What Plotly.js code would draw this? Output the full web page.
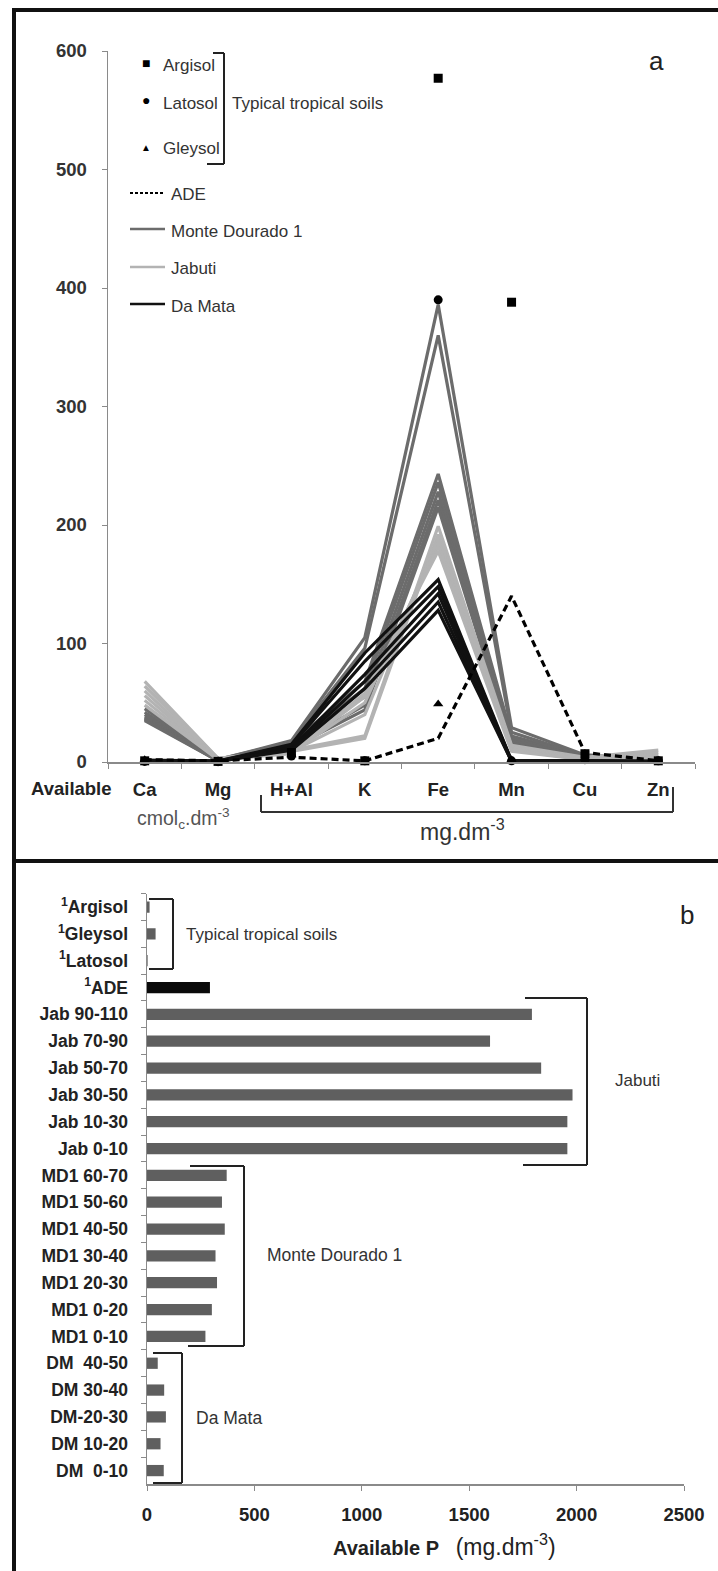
<!DOCTYPE html>
<html>
<head>
<meta charset="utf-8">
<script src="https://cdn.plot.ly/plotly-3.0.1.min.js"></script>
<style>
  html, body { margin: 0; padding: 0; background: #ffffff; }
  #chart { width: 718px; height: 1571px; }
</style>
</head>
<body>
<div id="chart"></div>
<script>
// ---------------- DATA ----------------
// Panel a: available nutrients
const nutrients = ['Ca', 'Mg', 'H+Al', 'K', 'Fe', 'Mn', 'Cu', 'Zn'];

// typical tropical soils (markers)
const argisol = [1, 0.5, 8, 1, 577, 388, 7, 1];
const latosol = [0.5, 0.3, 5, 1, 390, 1, 2, 1];
const gleysol = [2, 1, 6, 1, 49, 2, 3, 1];

// ADE (dashed)
const ade = [2, 1, 4, 1, 20, 140, 8, 1];

// Monte Dourado 1 profiles (depth, cm)
const md1Depths = ['0-10', '0-20', '20-30', '30-40', '40-50', '50-60', '60-70'];
const md1_0_10  = [45, 2.0, 18, 105, 386, 29, 6, 3];
const md1_0_20  = [42, 2.0, 17, 96, 360, 25, 5, 3];
const md1_20_30 = [40, 1.5, 16, 68, 243, 22, 5, 2];
const md1_30_40 = [38, 1.5, 15, 62, 236, 20, 4, 2];
const md1_40_50 = [37, 1.0, 14, 55, 228, 18, 4, 2];
const md1_50_60 = [36, 1.0, 13, 48, 221, 16, 3, 1];
const md1_60_70 = [35, 1.0, 12, 44, 215, 15, 3, 1];

// Jabuti profiles
const jabDepths = ['0-10', '10-30', '30-50', '50-70', '70-90', '90-110'];
const jab_0_10   = [68, 3, 10, 22, 199, 14, 4, 10];
const jab_10_30  = [64, 3, 9, 20, 192, 13, 3, 8];
const jab_30_50  = [60, 2, 9, 40, 188, 12, 3, 6];
const jab_50_70  = [56, 2, 8, 50, 185, 11, 3, 5];
const jab_70_90  = [52, 2, 8, 55, 182, 10, 2, 4];
const jab_90_110 = [48, 2, 7, 58, 178, 9, 2, 3];

// Da Mata profiles
const dmDepths = ['0-10', '10-20', '20-30', '30-40', '40-50'];
const dm_0_10  = [1.5, 0.8, 15, 92, 154, 1.0, 1.0, 0.5];
const dm_10_20 = [1.2, 0.7, 14, 85, 148, 1.0, 1.0, 0.5];
const dm_20_30 = [1.0, 0.6, 12, 74, 142, 0.8, 0.8, 0.4];
const dm_30_40 = [0.8, 0.5, 11, 68, 135, 0.6, 0.6, 0.3];
const dm_40_50 = [0.6, 0.4, 10, 62, 128, 0.5, 0.5, 0.3];

const yTicksA = [0, 100, 200, 300, 400, 500, 600];

// Panel b: available P (mg.dm-3)
const pSamples = ['<sup>1</sup>Argisol', '<sup>1</sup>Gleysol', '<sup>1</sup>Latosol', '<sup>1</sup>ADE',
  'Jab 90-110', 'Jab 70-90', 'Jab 50-70', 'Jab 30-50', 'Jab 10-30', 'Jab 0-10',
  'MD1 60-70', 'MD1 50-60', 'MD1 40-50', 'MD1 30-40', 'MD1 20-30', 'MD1 0-20', 'MD1 0-10',
  'DM\u00a0\u00a040-50', 'DM 30-40', 'DM-20-30', 'DM 10-20', 'DM\u00a0\u00a00-10'];
const availableP = [12, 40, 3, 293,
  1792, 1597, 1835, 1981, 1957, 1957,
  371, 349, 362, 319, 326, 302, 272,
  50, 80, 88, 63, 78];
const xTicksB = [0, 500, 1000, 1500, 2000, 2500];

// ---------------- HELPERS ----------------
const W = 718, H = 1571;
const px = x => x / W;
const py = y => 1 - y / H;
const FONT = 'Liberation Sans, Arial, sans-serif';

const MD1_COLOR = '#6c6c6c';
const JAB_COLOR = '#b3b3b3';
const DM_COLOR = '#111111';

const traces = [];
function profile(name, group, vals, color, width) {
  traces.push({
    type: 'scatter', mode: 'lines', name: name, legendgroup: group, showlegend: false,
    x: nutrients, y: vals, xaxis: 'x', yaxis: 'y',
    line: { color: color, width: width }, cliponaxis: false
  });
}
[md1_0_10, md1_0_20, md1_20_30, md1_30_40, md1_40_50, md1_50_60, md1_60_70]
  .forEach((v, i) => profile('Monte Dourado 1 ' + md1Depths[i], 'md1', v, MD1_COLOR, 3.2));
[jab_0_10, jab_10_30, jab_30_50, jab_50_70, jab_70_90, jab_90_110]
  .forEach((v, i) => profile('Jabuti ' + jabDepths[i], 'jab', v, JAB_COLOR, 3.2));
[dm_0_10, dm_10_20, dm_20_30, dm_30_40, dm_40_50]
  .forEach((v, i) => profile('Da Mata ' + dmDepths[i], 'dm', v, DM_COLOR, 3.2));

traces.push({
  type: 'scatter', mode: 'lines', name: 'ADE', showlegend: false,
  x: nutrients, y: ade, xaxis: 'x', yaxis: 'y',
  line: { color: '#000000', width: 3.2, dash: '7px,4px' }, cliponaxis: false
});
function soil(name, vals, symbol, size) {
  traces.push({
    type: 'scatter', mode: 'markers', name: name, showlegend: false,
    x: nutrients, y: vals, xaxis: 'x', yaxis: 'y',
    marker: { symbol: symbol, size: size, color: '#000000' }, cliponaxis: false
  });
}
soil('Argisol', argisol, 'square', 9);
soil('Latosol', latosol, 'circle', 9);
soil('Gleysol', gleysol, 'triangle-up', 9);

// panel b bars
const barColors = pSamples.map(s => s.indexOf('ADE') >= 0 ? '#0a0a0a' : '#5f5f5f');
traces.push({
  type: 'bar', orientation: 'h', name: 'Available P', showlegend: false,
  x: availableP, y: pSamples, xaxis: 'x2', yaxis: 'y2',
  marker: { color: barColors, line: { width: 0 } }
});

// ---------------- DECORATION ----------------
const shapes = [];
function seg(x0, y0, x1, y1, color, width, dash) {
  shapes.push({ type: 'line', xref: 'paper', yref: 'paper',
    x0: px(x0), y0: py(y0), x1: px(x1), y1: py(y1),
    line: { color: color, width: width, dash: dash || 'solid' } });
}
// frame
seg(12, 10, 718, 10, '#111', 4);
seg(14, 8, 14, 1571, '#111', 4);
seg(12, 861, 718, 861, '#111', 4);

// legend bracket (panel a)
seg(213, 53, 224, 53, '#222', 2);
seg(224, 53, 224, 164, '#222', 2);
seg(207, 164, 224, 164, '#222', 2);
// legend line samples
seg(130, 193, 165, 193, '#000', 2, '3px,2px');
seg(130, 229, 165, 229, MD1_COLOR, 2.5);
seg(130, 267, 165, 267, JAB_COLOR, 2.5);
seg(130, 304, 165, 304, DM_COLOR, 2.5);
// unit bracket under x axis
seg(261, 795, 261, 812, '#333', 2);
seg(261, 812, 673, 812, '#333', 2);
seg(673, 787, 673, 812, '#333', 2);

// panel b brackets
seg(149, 899, 173, 899, '#222', 2);
seg(173, 899, 173, 969, '#222', 2);
seg(149, 969, 173, 969, '#222', 2);

seg(525, 998, 587, 998, '#222', 2);
seg(587, 998, 587, 1165, '#222', 2);
seg(523, 1165, 587, 1165, '#222', 2);

seg(190, 1166, 244, 1166, '#222', 2);
seg(244, 1166, 244, 1346, '#222', 2);
seg(188, 1346, 244, 1346, '#222', 2);

seg(153, 1353, 182, 1353, '#222', 2);
seg(182, 1353, 182, 1483, '#222', 2);
seg(153, 1483, 182, 1483, '#222', 2);

const annotations = [];
function label(text, x, y, opts) {
  opts = opts || {};
  annotations.push({
    text: text, xref: 'paper', yref: 'paper', x: px(x), y: py(y),
    xanchor: opts.xanchor || 'left', yanchor: 'middle', showarrow: false,
    borderpad: 0,
    font: { family: FONT, size: opts.size || 16, color: opts.color || '#333',
            weight: opts.weight || 'normal' }
  });
}
// legend panel a
label('\u25A0', 146, 63, { xanchor: 'center', size: 14, color: '#000' });
label('\u25CF', 146, 100, { xanchor: 'center', size: 14, color: '#000' });
label('\u25B2', 146, 148, { xanchor: 'center', size: 10, color: '#000' });
label('Argisol', 162, 66, { size: 17 });
label('Latosol', 162, 103, { size: 17 });
label('Gleysol', 162, 149, { size: 17 });
label('Typical tropical soils', 231, 103, { size: 17 });
label('ADE', 170, 194, { size: 17 });
label('Monte Dourado 1', 170, 232, { size: 17 });
label('Jabuti', 170, 268, { size: 17 });
label('Da Mata', 170, 306, { size: 17 });
label('a', 656, 61, { xanchor: 'center', size: 26, color: '#222' });
label('Available', 113, 788, { xanchor: 'right', size: 18.5, weight: 'bold', color: '#222' });
label('cmol<sub>c</sub>.dm<sup>-3</sup>', 183, 818, { xanchor: 'center', size: 19.5, color: '#555' });
label('mg.dm<sup>-3</sup>', 462, 830, { xanchor: 'center', size: 23, color: '#333' });

// panel b labels
label('b', 687, 915, { xanchor: 'center', size: 26, color: '#222' });
label('Typical tropical soils', 185, 934, { size: 17 });
label('Jabuti', 614, 1080, { size: 17 });
label('Monte Dourado 1', 266, 1255, { size: 17.5 });
label('Da Mata', 195, 1418, { size: 17.5 });
annotations.push({
  text: '<b>Available P</b>   <span style="font-size:23px">(mg.dm<sup>-3</sup>)</span>',
  xref: 'paper', yref: 'paper', x: px(444), y: py(1545), xanchor: 'center', yanchor: 'middle',
  showarrow: false, font: { family: FONT, size: 20, color: '#222' }
});

// ---------------- LAYOUT ----------------
const layout = {
  width: W, height: H,
  margin: { l: 0, r: 0, t: 0, b: 0, pad: 0 },
  paper_bgcolor: '#ffffff', plot_bgcolor: 'rgba(0,0,0,0)',
  showlegend: false,
  font: { family: FONT, color: '#222' },
  xaxis: {
    domain: [px(108), px(695)], anchor: 'y', type: 'category',
    categoryorder: 'array', categoryarray: nutrients, range: [-0.5, 7.5],
    showline: true, linecolor: '#8a8a8a', linewidth: 1.5,
    ticks: 'outside', tickson: 'boundaries', ticklen: 5, tickcolor: '#8a8a8a',
    showgrid: false, zeroline: false, fixedrange: true,
    tickfont: { family: FONT, size: 18.5, weight: 'bold', color: '#222' },
    ticklabelstandoff: 10
  },
  yaxis: {
    domain: [py(762), py(51)], anchor: 'x', range: [0, 600],
    tickmode: 'array', tickvals: yTicksA,
    showline: true, linecolor: '#8a8a8a', linewidth: 1.5,
    ticks: 'outside', ticklen: 5, tickcolor: '#8a8a8a',
    showgrid: false, zeroline: false, fixedrange: true,
    tickfont: { family: FONT, size: 18.5, weight: 'bold', color: '#333' },
    ticklabelstandoff: 11
  },
  xaxis2: {
    domain: [px(147), px(684)], anchor: 'y2', range: [0, 2500],
    tickmode: 'array', tickvals: xTicksB,
    showline: true, linecolor: '#8a8a8a', linewidth: 1.5,
    ticks: 'outside', ticklen: 5, tickcolor: '#8a8a8a',
    showgrid: false, zeroline: false, fixedrange: true,
    tickfont: { family: FONT, size: 18.5, weight: 'bold', color: '#222' },
    ticklabelstandoff: 8
  },
  yaxis2: {
    domain: [py(1484), py(893.6)], anchor: 'x2', type: 'category',
    categoryorder: 'array', categoryarray: pSamples, autorange: 'reversed',
    showline: true, linecolor: '#8a8a8a', linewidth: 1.5,
    ticks: 'outside', tickson: 'boundaries', ticklen: 5, tickcolor: '#8a8a8a',
    showgrid: false, zeroline: false, fixedrange: true,
    tickfont: { family: FONT, size: 17.5, weight: 'bold', color: '#222' },
    ticklabelstandoff: 14
  },
  bargap: 0.58,
  shapes: shapes,
  annotations: annotations
};

Plotly.newPlot('chart', traces, layout, { displayModeBar: false, staticPlot: true });
</script>
</body>
</html>
